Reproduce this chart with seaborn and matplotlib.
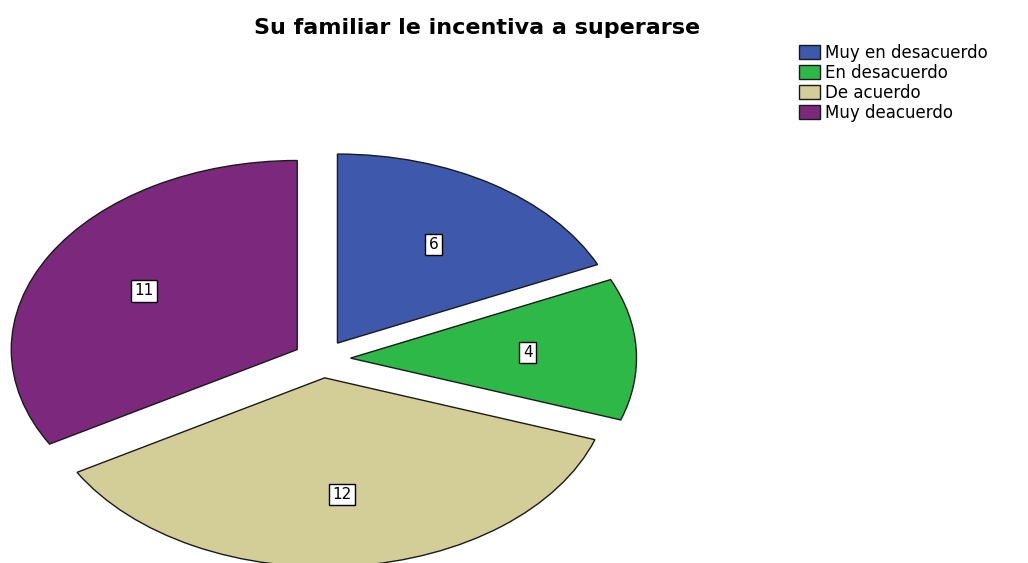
import numpy as np
import matplotlib
matplotlib.use("Agg")
import matplotlib.pyplot as plt
import seaborn as sns

sns.set_style('white')
plt.rcParams['font.family'] = ['DejaVu Sans']
plt.rcParams['text.color'] = 'black'

categories = ['Muy en desacuerdo', 'En desacuerdo', 'De acuerdo', 'Muy deacuerdo']
counts = [6, 4, 12, 11]
colors = ['#3E58AC', '#2EB848', '#D3CE97', '#7C287D']
title = 'Su familiar le incentiva a superarse'

total = sum(counts)

fig = plt.figure(figsize=(10.28, 5.63), dpi=100)
ax = fig.add_axes([0, 0, 1, 1])

wedges, texts, autotexts = ax.pie(
    counts,
    colors=sns.color_palette(colors),
    startangle=90,
    counterclock=False,
    explode=[0.1] * len(counts),
    autopct=lambda p: '{:d}'.format(int(round(p * total / 100))),
    pctdistance=0.62,
    wedgeprops=dict(edgecolor='#1a1a1a', linewidth=1.0),
    textprops=dict(fontsize=11, color='black'),
)
for t in autotexts:
    t.set_bbox(dict(boxstyle='square,pad=0.22', facecolor='white',
                    edgecolor='black', linewidth=1.0))

# elliptical pie like the original
ax.set_aspect('auto')
ax.set_xlim(-1.126, 2.469)
ax.set_ylim(-1.079, 1.899)
ax.axis('off')

fig.text(0.464, 0.950, title, ha='center', va='center',
         fontsize=16, fontweight='bold', color='black')

leg = fig.legend(wedges, categories, loc='upper left',
                 bbox_to_anchor=(0.777, 0.922), frameon=False,
                 fontsize=12, handlelength=1.25, handleheight=0.85,
                 handletextpad=0.3, labelspacing=0.12, borderpad=0,
                 borderaxespad=0)
for t in leg.get_texts():
    t.set_color('black')

plt.savefig('out.png', dpi=100)
